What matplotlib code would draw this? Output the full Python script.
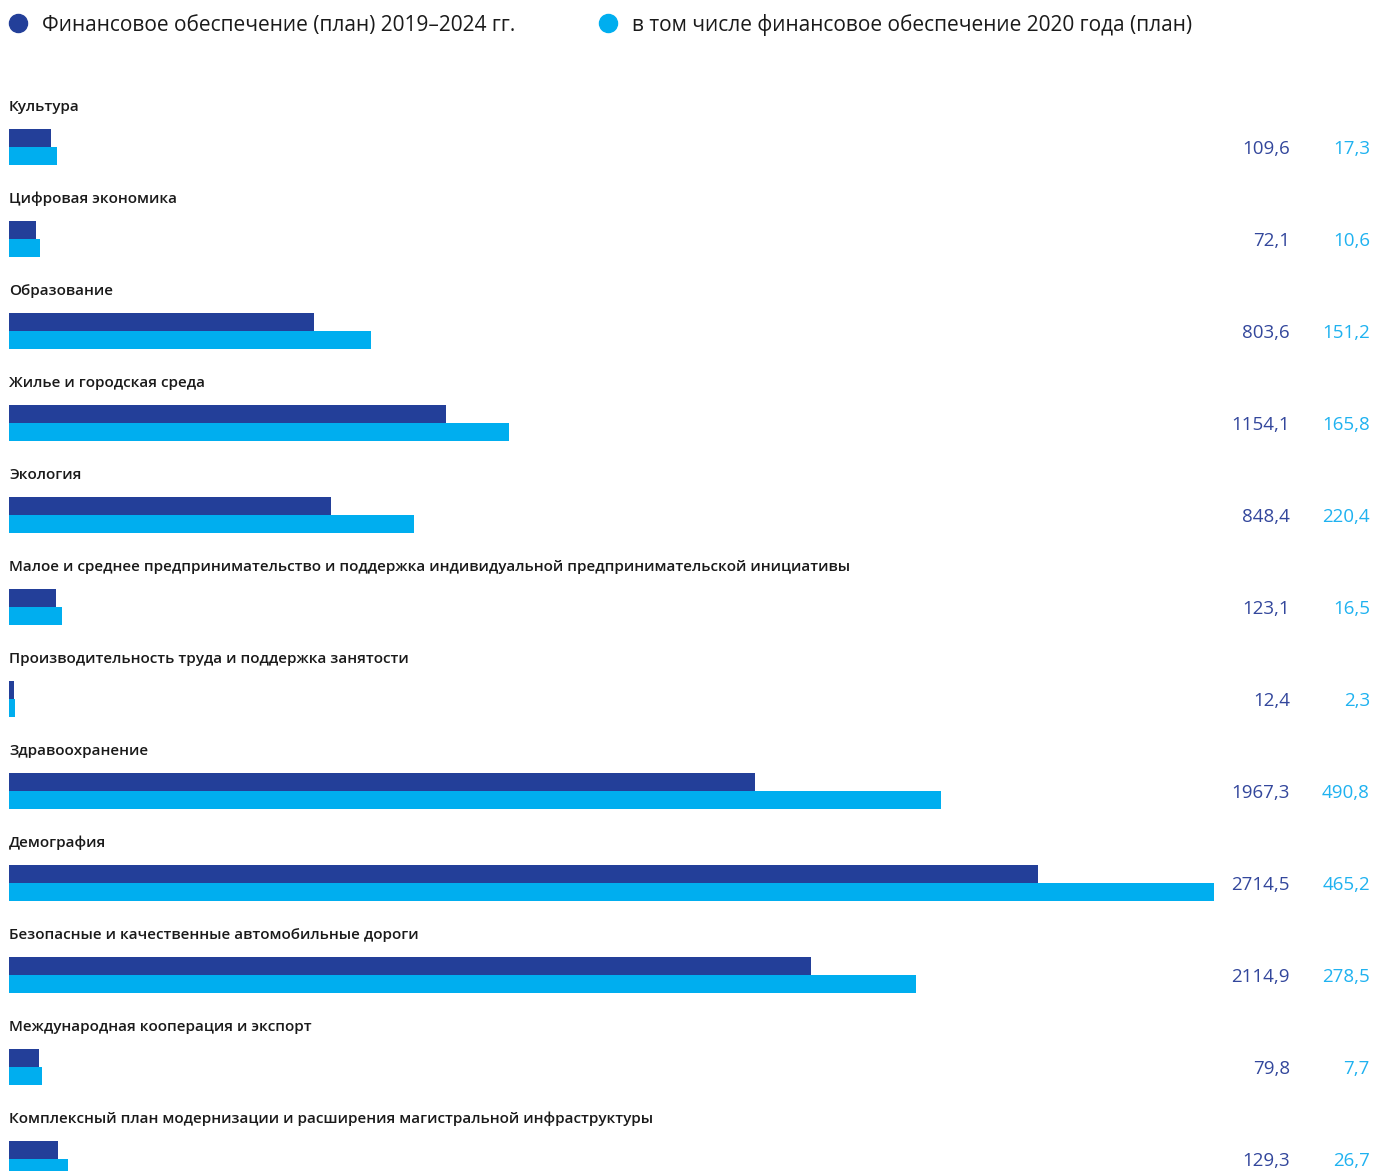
import matplotlib
matplotlib.use('Agg')
import matplotlib.pyplot as plt
import matplotlib.transforms as mtransforms
import numpy as np

# ── Данные ──────────────────────────────────────────────────────────────────
categories = [
    "Культура",
    "Цифровая экономика",
    "Образование",
    "Жилье и городская среда",
    "Экология",
    "Малое и среднее предпринимательство и поддержка индивидуальной предпринимательской инициативы",
    "Производительность труда и поддержка занятости",
    "Здравоохранение",
    "Демография",
    "Безопасные и качественные автомобильные дороги",
    "Международная кооперация и экспорт",
    "Комплексный план модернизации и расширения магистральной инфраструктуры",
]
plan_2019_2024 = [109.6, 72.1, 803.6, 1154.1, 848.4, 123.1, 12.4, 1967.3, 2714.5, 2114.9, 79.8, 129.3]
plan_2020 = [17.3, 10.6, 151.2, 165.8, 220.4, 16.5, 2.3, 490.8, 465.2, 278.5, 7.7, 26.7]

legend_labels = ["Финансовое обеспечение (план) 2019–2024 гг.",
                 "в том числе финансовое обеспечение 2020 года (план)"]

# ── Палитра ─────────────────────────────────────────────────────────────────
DARK = "#233f99"
LIGHT = "#00aeef"
DARK_TXT = "#33479c"
LIGHT_TXT = "#1fb2f0"
TEXT = "#1a1a1a"
FONT = ["Open Sans", "DejaVu Sans"]

W, H = 1373, 1171
fig = plt.figure(figsize=(W / 100, H / 100), dpi=100)
ax = fig.add_axes([0, 0, 1, 1])

plan = np.array(plan_2019_2024)
y20 = np.array(plan_2020)
rows = np.arange(len(categories))

# масштаб: пикселей на единицу значения, отступ слева
px_per_unit = 0.379
left_px = 9
row_px = 92
first_row_px = 147

bar_h = 17.5 / row_px
off = 8.8 / row_px

ax.barh(rows - off, plan, height=bar_h, color=DARK, left=0)
ax.barh(rows + off, plan + y20, height=bar_h, color=LIGHT, left=0)

ax.set_xlim(-left_px / px_per_unit, (W - left_px) / px_per_unit)
ax.set_ylim((H - first_row_px) / row_px, -first_row_px / row_px)
ax.set_axis_off()

tr = mtransforms.blended_transform_factory(ax.transAxes, ax.transData)
for i, name in enumerate(categories):
    ax.text(left_px / W, i - 40 / row_px, name, transform=tr, ha='left', va='center',
            fontsize=11, fontweight='semibold', color=TEXT, family=FONT)
    ax.text(1290 / W, i + 2 / row_px, f"{plan[i]:.1f}".replace('.', ','), transform=tr,
            ha='right', va='center', fontsize=13.5, fontweight='normal',
            color=DARK_TXT, family=FONT)
    ax.text(1370 / W, i + 2 / row_px, f"{y20[i]:.1f}".replace('.', ','), transform=tr,
            ha='right', va='center', fontsize=13.5, fontweight='normal',
            color=LIGHT_TXT, family=FONT)

# ── Легенда ─────────────────────────────────────────────────────────────────
for (mx, tx), col, lab in zip([(18, 42), (608, 632)], [DARK, LIGHT], legend_labels):
    fig.lines.append(plt.Line2D([mx / W], [1 - 23 / H], marker='o', markersize=13,
                                color=col, transform=fig.transFigure))
    fig.text(tx / W, 1 - 25 / H, lab, ha='left', va='center', fontsize=15,
             color=TEXT, family=FONT)

fig.savefig("out.png", dpi=100, facecolor='white')
